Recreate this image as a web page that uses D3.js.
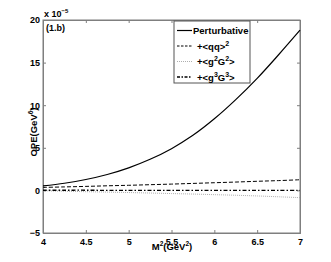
<html>
<head>
<script src="https://d3js.org/d3.v7.min.js"></script>
<style>
body { margin: 0; background: #fff; }
svg { font-family: 'Liberation Sans', Arial, sans-serif; font-weight: bold; }
</style>
</head>
<body>
<div id="chart"></div>
<script>
var width = 331, height = 262;
var margin = {left: 43, right: 31, top: 20, bottom: 29};

// M^2 values (GeV^2)
var m2 = [4, 4.25, 4.5, 4.75, 5, 5.25, 5.5, 5.75, 6, 6.25, 6.5, 6.75, 7];
// OPE contributions, in units of 1e-5
var perturbative = [0.53, 0.84, 1.28, 1.87, 2.65, 3.65, 4.9, 6.46, 8.4, 10.65, 13.15, 15.92, 18.8];
var qq2 = [0.35, 0.41, 0.47, 0.54, 0.6, 0.67, 0.74, 0.82, 0.9, 0.98, 1.07, 1.15, 1.25];
var g2G2 = [-0.05, -0.1, -0.15, -0.2, -0.25, -0.31, -0.37, -0.43, -0.5, -0.57, -0.65, -0.75, -0.85];
var g3G3 = [0.02, 0.02, 0.02, 0.01, 0.01, 0.01, 0.01, 0.0, 0.0, 0.0, 0.0, 0.0, 0.0];

var xTicks = [4, 4.5, 5, 5.5, 6, 6.5, 7];
var yTicks = [-5, 0, 5, 10, 15, 20];
var legendLabels = ["Perturbative", "+<qq>", "+<g", "+<g"];

var svg = d3.select("#chart").append("svg")
  .attr("width", width).attr("height", height);

var x = d3.scaleLinear().domain([4, 7]).range([margin.left, width - margin.right]);
var y = d3.scaleLinear().domain([-5, 20]).range([height - margin.bottom, margin.top]);

var axisColor = "#7f7f7f";

// box
svg.append("rect")
  .attr("x", x(4)).attr("y", y(20))
  .attr("width", x(7) - x(4)).attr("height", y(-5) - y(20))
  .attr("fill", "none").attr("stroke", axisColor).attr("stroke-width", 1);

// axes with inward ticks
var gx = svg.append("g").attr("transform", "translate(0," + y(-5) + ")")
  .call(d3.axisBottom(x).tickValues(xTicks).tickSize(-3).tickPadding(6).tickFormat(d3.format("")));
var gxTop = svg.append("g").attr("transform", "translate(0," + y(20) + ")")
  .call(d3.axisTop(x).tickValues(xTicks).tickSize(-3).tickFormat(""));
var gy = svg.append("g").attr("transform", "translate(" + x(4) + ",0)")
  .call(d3.axisLeft(y).tickValues(yTicks).tickSize(-3).tickPadding(3).tickFormat(d3.format("")));
var gyR = svg.append("g").attr("transform", "translate(" + x(7) + ",0)")
  .call(d3.axisRight(y).tickValues(yTicks).tickSize(-3).tickFormat(""));

[gx, gxTop, gy, gyR].forEach(function(g) {
  g.select(".domain").attr("stroke", axisColor);
  g.selectAll(".tick line").attr("stroke", axisColor);
  g.selectAll("text").attr("fill", "#000").style("font-size", "9px").style("font-weight", "bold")
    .style("font-family", "'Liberation Sans', Arial, sans-serif");
});
gy.selectAll(".tick text").text(function(d) { return d < 0 ? "\u2212" + Math.abs(d) : d; });

// lines
var line = function(vals) {
  return d3.line().x(function(d, i) { return x(m2[i]); }).y(function(d) { return y(d); })
    .curve(d3.curveCatmullRom)(vals);
};

svg.append("path").attr("d", line(g2G2)).attr("fill", "none")
  .attr("stroke", "#999").attr("stroke-width", 0.8).attr("stroke-dasharray", "1,1");
svg.append("path").attr("d", line(qq2)).attr("fill", "none")
  .attr("stroke", "#000").attr("stroke-width", 1).attr("stroke-dasharray", "4,2");
svg.append("path").attr("d", line(g3G3)).attr("fill", "none")
  .attr("stroke", "#000").attr("stroke-width", 1.3).attr("stroke-dasharray", "4,2,1.5,2");
svg.append("path").attr("d", line(perturbative)).attr("fill", "none")
  .attr("stroke", "#000").attr("stroke-width", 1.2);

// legend
var lg = svg.append("g");
lg.append("rect").attr("x", 174).attr("y", 21).attr("width", 76).attr("height", 62)
  .attr("fill", "#fff").attr("stroke", "#555").attr("stroke-width", 1);
var rows = [30.5, 46, 61.5, 77];
var styles = [
  {dash: null, color: "#000", w: 1.2},
  {dash: "2.5,1.5", color: "#000", w: 1},
  {dash: "1,1", color: "#999", w: 0.8},
  {dash: "3,1.5,1.5,1.5", color: "#000", w: 1.3}
];
rows.forEach(function(ry, i) {
  lg.append("line").attr("x1", 177).attr("x2", 192).attr("y1", ry).attr("y2", ry)
    .attr("stroke", styles[i].color).attr("stroke-width", styles[i].w)
    .attr("stroke-dasharray", styles[i].dash);
});
var lt = lg.append("g").style("font-size", "9.5px");
lt.append("text").attr("x", 193).attr("y", rows[0] + 3.5).text(legendLabels[0]);
var t1 = lt.append("text").attr("x", 197).attr("y", rows[1] + 3.5).text(legendLabels[1]);
t1.append("tspan").attr("dy", -4).style("font-size", "7px").text("2");
var t2 = lt.append("text").attr("x", 197).attr("y", rows[2] + 3.5).text(legendLabels[2]);
t2.append("tspan").attr("dy", -4).style("font-size", "7px").text("2");
t2.append("tspan").attr("dy", 4).text("G");
t2.append("tspan").attr("dy", -4).style("font-size", "7px").text("2");
t2.append("tspan").attr("dy", 4).text(">");
var t3 = lt.append("text").attr("x", 197).attr("y", rows[3] + 3.5).text(legendLabels[3]);
t3.append("tspan").attr("dy", -4).style("font-size", "7px").text("3");
t3.append("tspan").attr("dy", 4).text("G");
t3.append("tspan").attr("dy", -4).style("font-size", "7px").text("3");
t3.append("tspan").attr("dy", 4).text(">");

// annotations
var ex = svg.append("text").attr("x", 44).attr("y", 17).style("font-size", "9px").text("x 10");
ex.append("tspan").attr("dy", -4).style("font-size", "6px").text("\u22125");
svg.append("text").attr("x", 46).attr("y", 31).style("font-size", "9px").text("(1.b)");

// x label
var xl = svg.append("text").attr("x", 172).attr("y", 250).attr("text-anchor", "middle")
  .style("font-size", "9.5px").text("M");
xl.append("tspan").attr("dy", -4).style("font-size", "6.5px").text("2");
xl.append("tspan").attr("dy", 4).text("(GeV");
xl.append("tspan").attr("dy", -4).style("font-size", "6.5px").text("2");
xl.append("tspan").attr("dy", 4).text(")");

// y label
var yl = svg.append("text").attr("transform", "translate(36.5,132) rotate(-90)")
  .attr("text-anchor", "middle").style("font-size", "9.5px").text("OPE(GeV");
yl.append("tspan").attr("dy", -4).style("font-size", "6.5px").text("6");
yl.append("tspan").attr("dy", 4).text(")");
</script>
</body>
</html>
